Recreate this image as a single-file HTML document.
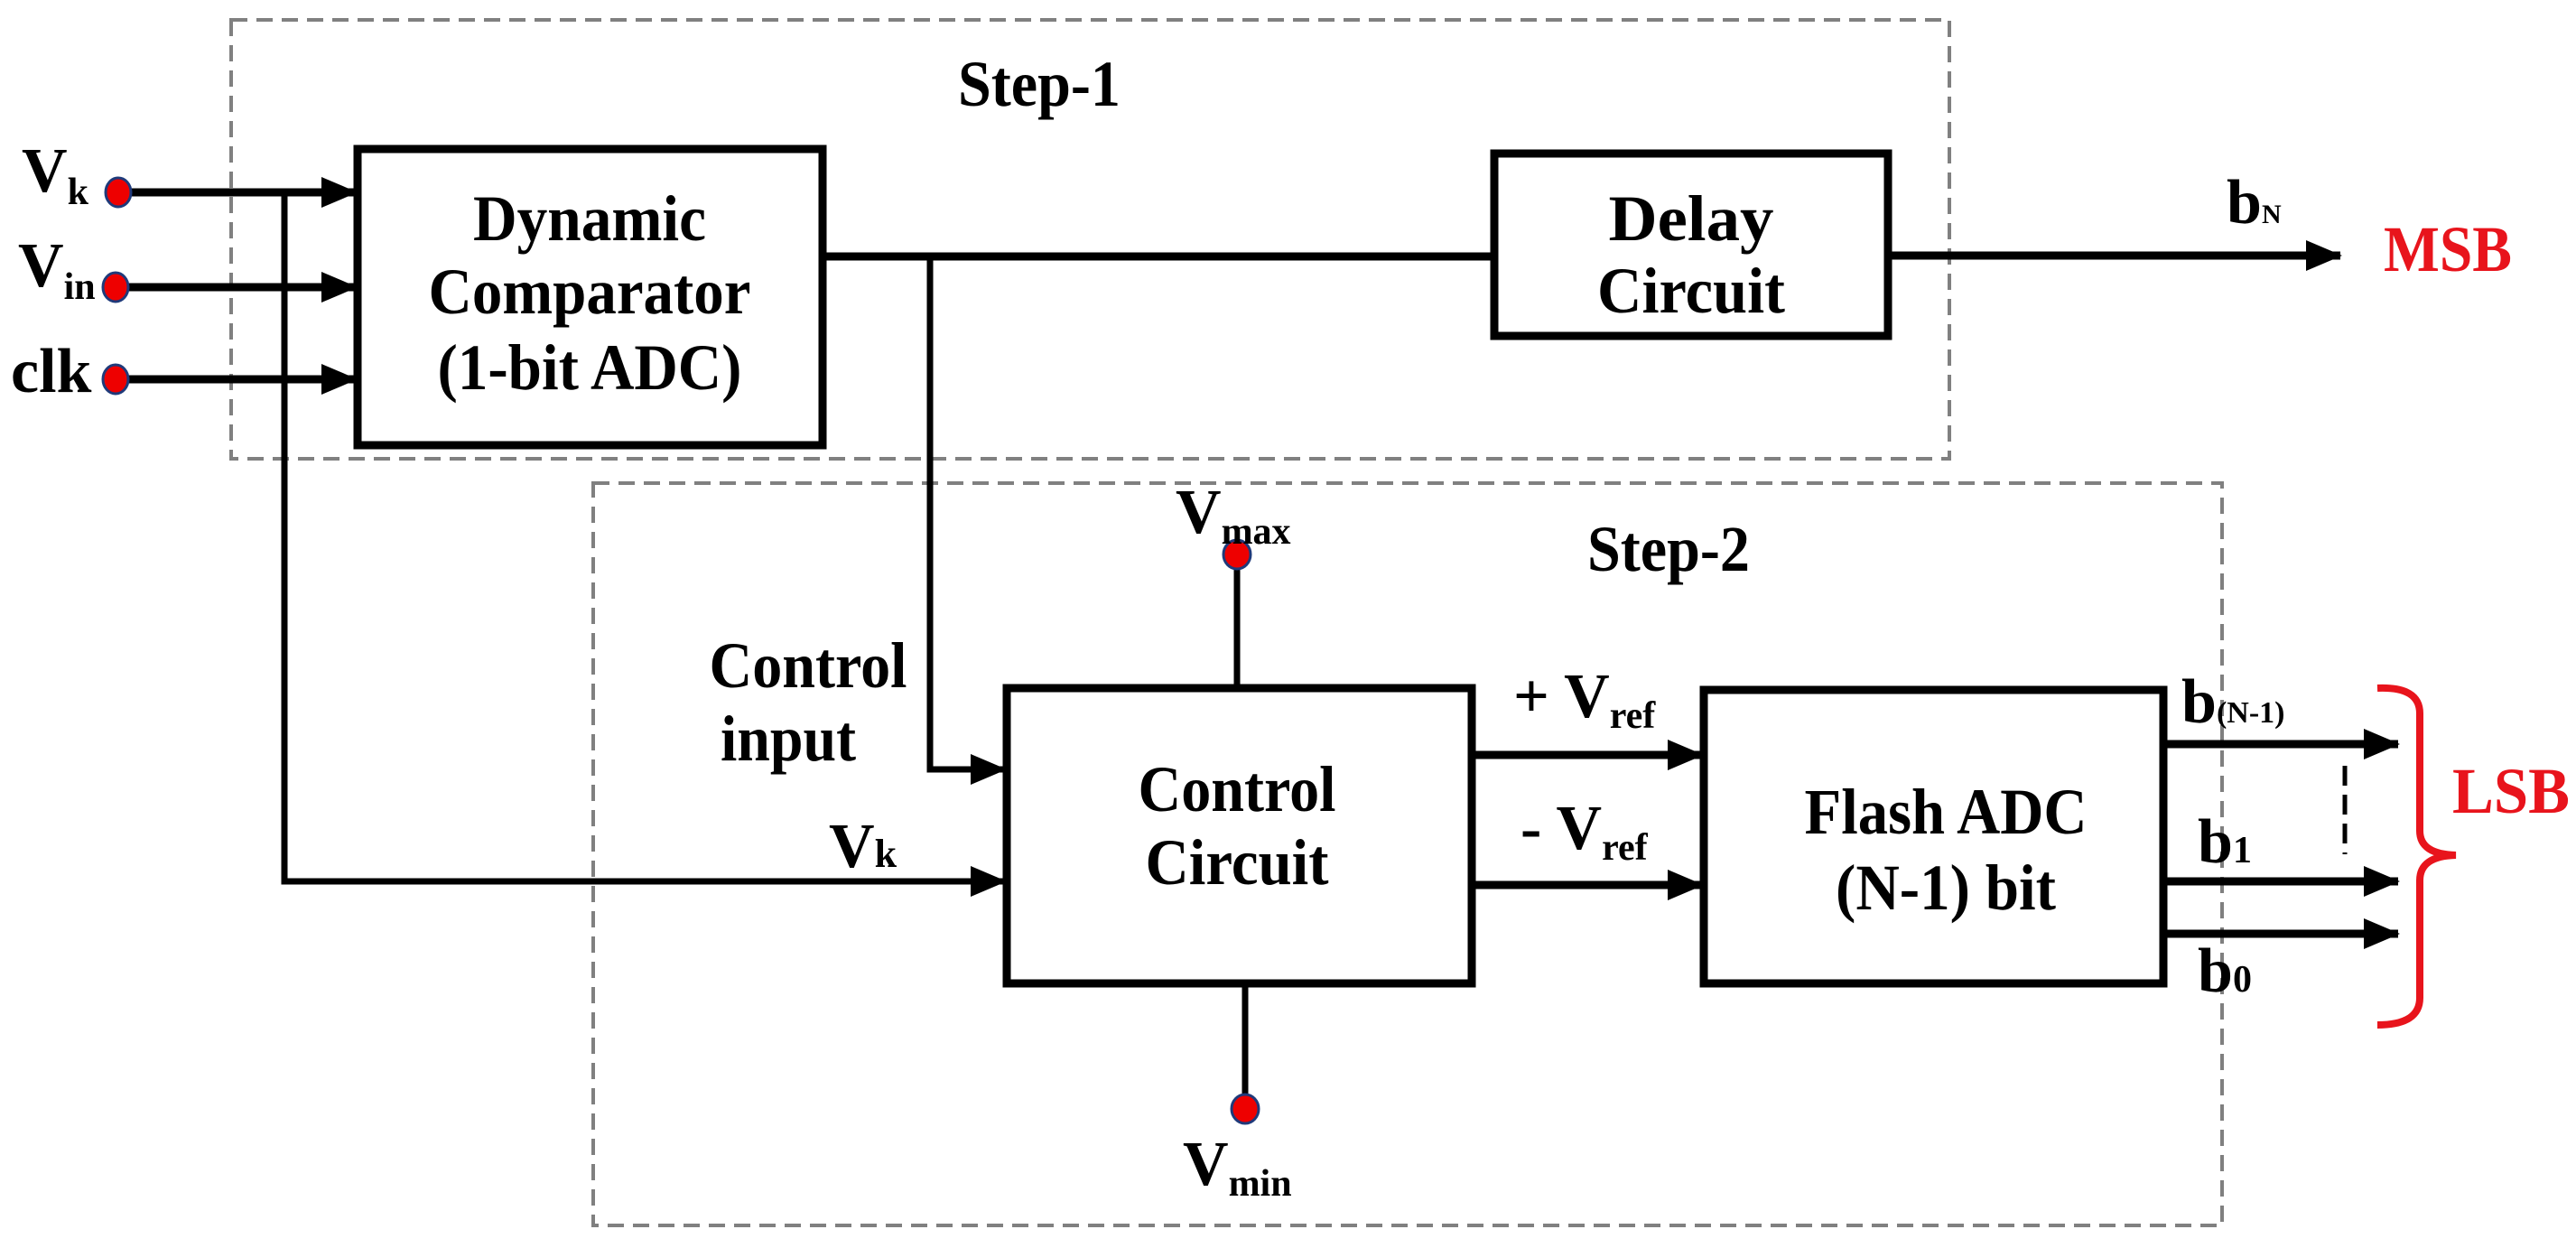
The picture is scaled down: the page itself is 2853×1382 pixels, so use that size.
<!DOCTYPE html>
<html><head><meta charset="utf-8"><style>html,body{margin:0;padding:0;background:#fff}svg{display:block}</style></head>
<body>
<svg width="2853" height="1382" viewBox="0 0 2853 1382" xmlns="http://www.w3.org/2000/svg" font-family="'Liberation Serif', serif" font-weight="bold">
<defs>
<marker id="ar" markerWidth="40" markerHeight="40" refX="38" refY="20" orient="auto" markerUnits="userSpaceOnUse">
<path d="M0,3 L40,20 L0,37 z" fill="#000"/>
</marker>
</defs>
<rect x="256" y="22" width="1903" height="486" fill="none" stroke="#808080" stroke-width="4" stroke-dasharray="18,10"/>
<rect x="657" y="535" width="1804" height="822" fill="none" stroke="#808080" stroke-width="4" stroke-dasharray="18,10"/>
<g stroke="#000" stroke-width="9" fill="none">
<rect x="396" y="165" width="515" height="328"/>
<rect x="1655" y="170" width="436" height="202"/>
<rect x="1115" y="762" width="515" height="327"/>
<rect x="1887" y="764" width="509" height="325"/>
<line x1="140" y1="213" x2="394" y2="213" marker-end="url(#ar)"/>
<line x1="140" y1="318" x2="394" y2="318" marker-end="url(#ar)"/>
<line x1="140" y1="420" x2="394" y2="420" marker-end="url(#ar)"/>
<polyline points="315,213 315,976 1113,976" stroke-width="7" marker-end="url(#ar)"/>
<line x1="911" y1="284" x2="1655" y2="284"/>
<polyline points="1030,284 1030,852 1113,852" stroke-width="7" marker-end="url(#ar)"/>
<line x1="2091" y1="283" x2="2592" y2="283" marker-end="url(#ar)"/>
<line x1="1370" y1="628" x2="1370" y2="762" stroke-width="7"/>
<line x1="1379" y1="1089" x2="1379" y2="1214" stroke-width="7"/>
<line x1="1630" y1="836" x2="1885" y2="836" marker-end="url(#ar)"/>
<line x1="1630" y1="980" x2="1885" y2="980" marker-end="url(#ar)"/>
<line x1="2396" y1="824" x2="2656" y2="824" marker-end="url(#ar)"/>
<line x1="2396" y1="976" x2="2656" y2="976" marker-end="url(#ar)"/>
<line x1="2396" y1="1034" x2="2656" y2="1034" marker-end="url(#ar)"/>
<line x1="2597" y1="848" x2="2597" y2="946" stroke-width="5" stroke-dasharray="22,10"/>
</g>
<path d="M2633,762 Q2680,760 2680,790 L2680,920 Q2680,946 2720,947 Q2680,948 2680,975 L2680,1105 Q2680,1135 2633,1135" fill="none" stroke="#e8141c" stroke-width="8"/>
<g fill="#ee0000" stroke="#1f3a7a" stroke-width="3">
<ellipse cx="131" cy="213" rx="14" ry="16"/>
<ellipse cx="128" cy="318" rx="14" ry="16"/>
<ellipse cx="128" cy="420" rx="14" ry="16"/>
<ellipse cx="1370" cy="614" rx="15" ry="16"/>
<ellipse cx="1379" cy="1228" rx="15" ry="16"/>
</g>
<g font-size="72" fill="#000" text-anchor="middle">
<text x="1151" y="117" textLength="180" lengthAdjust="spacingAndGlyphs">Step-1</text>
<text x="1848" y="632" textLength="180" lengthAdjust="spacingAndGlyphs">Step-2</text>
<text x="653" y="266" textLength="258" lengthAdjust="spacingAndGlyphs">Dynamic</text>
<text x="653" y="347" textLength="357" lengthAdjust="spacingAndGlyphs">Comparator</text>
<text x="653" y="431" textLength="337" lengthAdjust="spacingAndGlyphs">(1-bit ADC)</text>
<text x="1873" y="266" textLength="183" lengthAdjust="spacingAndGlyphs">Delay</text>
<text x="1873" y="346" textLength="208" lengthAdjust="spacingAndGlyphs">Circuit</text>
<text x="1370" y="898" textLength="219" lengthAdjust="spacingAndGlyphs">Control</text>
<text x="1370" y="979" textLength="203" lengthAdjust="spacingAndGlyphs">Circuit</text>
<text x="2155" y="923" textLength="313" lengthAdjust="spacingAndGlyphs">Flash ADC</text>
<text x="2155" y="1007" textLength="244" lengthAdjust="spacingAndGlyphs">(N-1) bit</text>
<text x="895" y="761" textLength="219" lengthAdjust="spacingAndGlyphs">Control</text>
<text x="873" y="842" textLength="150" lengthAdjust="spacingAndGlyphs">input</text>
</g>
<g font-size="70" fill="#000">
<text x="24" y="212">V<tspan font-size="42" dy="14">k</tspan></text>
<text x="20" y="317">V<tspan font-size="42" dy="14">in</tspan></text>
<text x="12" y="434">clk</text>
<text x="918" y="960">V<tspan font-size="44">k</tspan></text>
<text x="1302" y="590">V<tspan font-size="42" dy="12">max</tspan></text>
<text x="1310" y="1312">V<tspan font-size="42" dy="12">min</tspan></text>
<text x="1676" y="794">+ V<tspan font-size="42" dy="12">ref</tspan></text>
<text x="1684" y="940">- V<tspan font-size="42" dy="12">ref</tspan></text>
<text x="2466" y="247">b<tspan font-size="30">N</tspan></text>
<text x="2416" y="800">b<tspan font-size="34">(N-1)</tspan></text>
<text x="2434" y="955">b<tspan font-size="42">1</tspan></text>
<text x="2434" y="1098">b<tspan font-size="42">0</tspan></text>
</g>
<g font-size="72" fill="#e8141c">
<text x="2640" y="300" textLength="142" lengthAdjust="spacingAndGlyphs">MSB</text>
<text x="2716" y="900" textLength="130" lengthAdjust="spacingAndGlyphs">LSB</text>
</g>
</svg>
</body></html>
